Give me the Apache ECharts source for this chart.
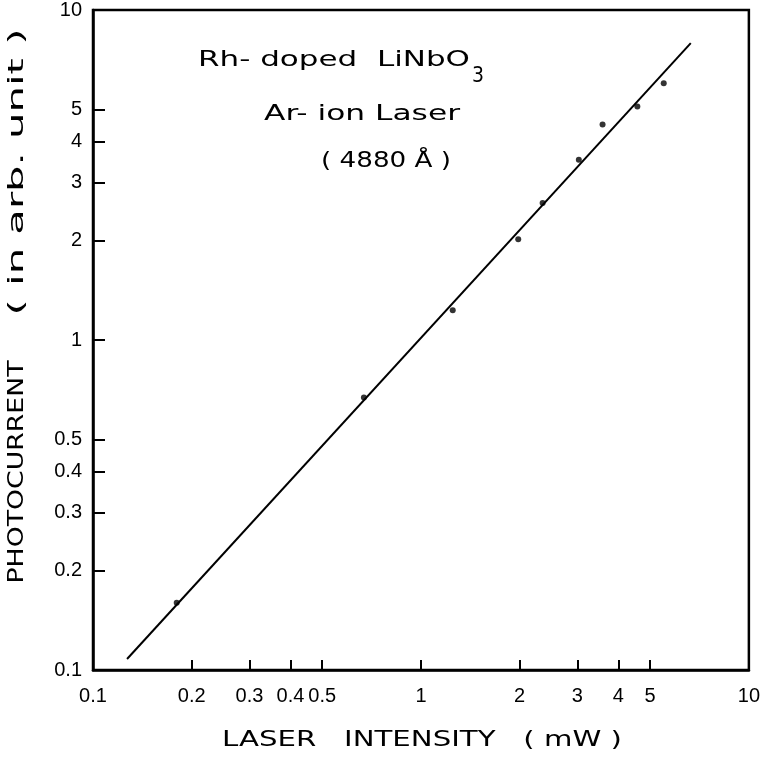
<!DOCTYPE html>
<html>
<head>
<meta charset="utf-8">
<script src="https://cdn.jsdelivr.net/npm/echarts@6/dist/echarts.min.js"></script>
<style>html,body{margin:0;padding:0;background:#fff}#c{width:763px;height:760px}</style>
</head>
<body>
<div id="c"></div>
<script>
// Measured points
const xValues = [0.18, 0.67, 1.25, 1.98, 2.35, 3.03, 3.58, 4.57, 5.5];
const yValues = [0.16, 0.67, 1.23, 2.02, 2.6, 3.52, 4.5, 5.1, 6.0];
// Fitted straight line endpoints
const fitX = [0.127, 6.65];
const fitY = [0.108, 7.94];
// Axis ticks / labels
const xTickValues = [0.2, 0.3, 0.4, 0.5, 1, 2, 3, 4, 5];
const xLabelValues = [0.1, 0.2, 0.3, 0.4, 0.5, 1, 2, 3, 4, 5, 10];
const yTickValues = [0.2, 0.3, 0.4, 0.5, 1, 2, 3, 4, 5];
const yLabelValues = [0.1, 0.2, 0.3, 0.4, 0.5, 1, 2, 3, 4, 5, 10];
// Texts
const xTitle = 'LASER   INTENSITY   ( mW )';
const yTitle1 = 'PHOTOCURRENT';
const yTitle2 = '( in arb. unit )';
const note1 = 'Rh- doped  LiNbO';
const note1Sub = '3';
const note2 = 'Ar- ion Laser';
const note3 = '( 4880 Å )';

const FONT = 'Liberation Sans';
const TFONT = 'DejaVu Sans';
const ctx = document.createElement('canvas').getContext('2d');
function widthOf(text, size, family) { ctx.font = size + 'px "' + family + '"'; return ctx.measureText(text).width; }
function txt(text, size, cx, cy, targetW, opts) {
  const w = widthOf(text, size, TFONT);
  return Object.assign({
    type: 'text', x: cx, y: cy, scaleX: targetW / w, scaleY: 1,
    style: {text: text, fontFamily: TFONT, fontSize: size, fill: '#000', align: 'center', verticalAlign: 'middle'}
  }, opts || {});
}

const chart = echarts.init(document.getElementById('c'), null, {renderer: 'canvas'});
const pts = xValues.map((x, i) => [x, yValues[i]]);
const line = fitX.map((x, i) => [x, fitY[i]]);
function fmt(v) { return String(+v.toPrecision(3)); }

chart.setOption({
  animation: false,
  backgroundColor: '#fff',
  grid: {left: 93, right: 8, top: 10, bottom: 90, show: true, borderColor: '#000', borderWidth: 2.5, backgroundColor: 'transparent'},
  xAxis: {
    type: 'log', min: 0.1, max: 10, logBase: 10,
    axisLine: {show: true, lineStyle: {color: '#000', width: 2.5}},
    axisTick: {show: true, inside: true, length: 10, lineStyle: {color: '#000', width: 2}, customValues: xTickValues},
    axisLabel: {color: '#000', fontFamily: FONT, fontSize: 20, margin: 16, customValues: xLabelValues, formatter: v => fmt(v)},
    splitLine: {show: false}, minorTick: {show: false}, minorSplitLine: {show: false}
  },
  yAxis: {
    type: 'log', min: 0.1, max: 10, logBase: 10,
    axisLine: {show: true, lineStyle: {color: '#000', width: 2.5}},
    axisTick: {show: true, inside: true, length: 12, lineStyle: {color: '#000', width: 2}, customValues: yTickValues},
    axisLabel: {color: '#000', fontFamily: FONT, fontSize: 20, margin: 11, customValues: yLabelValues, formatter: v => fmt(v)},
    splitLine: {show: false}, minorTick: {show: false}, minorSplitLine: {show: false}
  },
  graphic: [
    txt(xTitle, 21, 422, 741, 400),
    txt(yTitle1, 21, 18, 472, 223, {rotation: Math.PI / 2}),
    txt(yTitle2, 21, 18, 172, 287, {rotation: Math.PI / 2}),
    txt(note1, 21, 334, 61, 272),
    txt(note1Sub, 21, 478, 77, 12),
    txt(note2, 21, 362, 115, 196),
    txt(note3, 21, 386, 162, 130)
  ],
  series: [
    {type: 'line', data: line, symbol: 'none', lineStyle: {color: '#000', width: 2}, z: 2},
    {type: 'scatter', data: pts, symbol: 'circle', symbolSize: 6, itemStyle: {color: '#000'}, z: 3}
  ]
});
</script>
</body>
</html>
